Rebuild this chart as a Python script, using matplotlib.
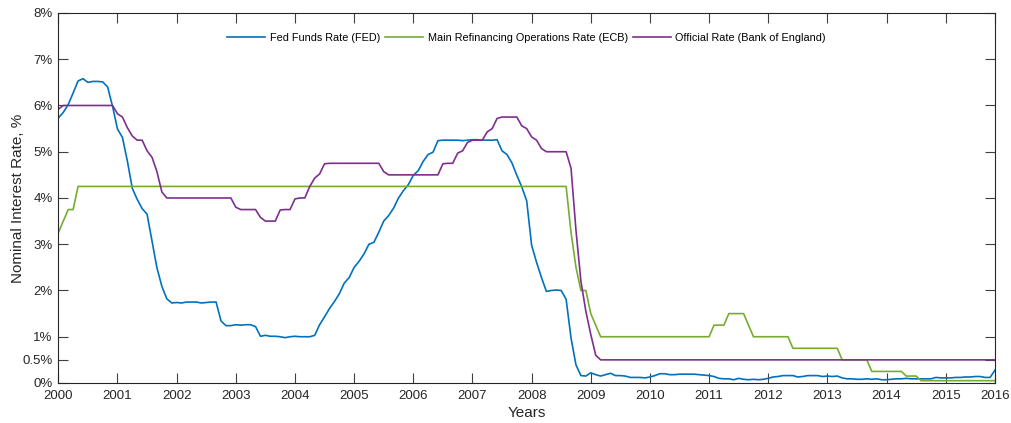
#Nominal interest rates: FED vs ECB vs Bank of England, monthly, Feb 2000 - Dec 2015
import matplotlib
matplotlib.use('Agg')
import matplotlib.pyplot as plt

plt.rcParams['font.family'] = ['Liberation Sans', 'DejaVu Sans']

#----------monthly values, one row per year (first row starts in Feb 2000)----------
fed = [5.73, 5.85, 6.02, 6.27, 6.53, 6.58, 6.50, 6.52, 6.52, 6.51, 6.40,
       5.98, 5.49, 5.31, 4.80, 4.21, 3.97, 3.77, 3.65, 3.07, 2.49, 2.09, 1.82,
       1.73, 1.74, 1.73, 1.75, 1.75, 1.75, 1.73, 1.74, 1.75, 1.75, 1.34, 1.24,
       1.24, 1.26, 1.25, 1.26, 1.26, 1.22, 1.01, 1.03, 1.01, 1.01, 1.00, 0.98,
       1.00, 1.01, 1.00, 1.00, 1.00, 1.03, 1.26, 1.43, 1.61, 1.76, 1.93, 2.16,
       2.28, 2.50, 2.63, 2.79, 3.00, 3.04, 3.26, 3.50, 3.62, 3.78, 4.00, 4.16,
       4.29, 4.49, 4.59, 4.79, 4.94, 4.99, 5.24, 5.25, 5.25, 5.25, 5.25, 5.24,
       5.25, 5.26, 5.26, 5.25, 5.25, 5.25, 5.26, 5.02, 4.94, 4.76, 4.49, 4.24,
       3.94, 2.98, 2.61, 2.28, 1.98, 2.00, 2.01, 2.00, 1.81, 0.97, 0.39, 0.16,
       0.15, 0.22, 0.18, 0.15, 0.18, 0.21, 0.16, 0.16, 0.15, 0.12, 0.12, 0.12,
       0.11, 0.13, 0.16, 0.20, 0.20, 0.18, 0.18, 0.19, 0.19, 0.19, 0.19, 0.18,
       0.17, 0.16, 0.14, 0.10, 0.09, 0.09, 0.07, 0.10, 0.08, 0.07, 0.08, 0.07,
       0.08, 0.10, 0.13, 0.14, 0.16, 0.16, 0.16, 0.13, 0.14, 0.16, 0.16, 0.16,
       0.14, 0.15, 0.14, 0.15, 0.11, 0.09, 0.09, 0.08, 0.08, 0.09, 0.08, 0.09,
       0.07, 0.07, 0.08, 0.09, 0.09, 0.10, 0.09, 0.09, 0.09, 0.09, 0.09, 0.12,
       0.11, 0.11, 0.11, 0.12, 0.12, 0.13, 0.13, 0.14, 0.14, 0.12, 0.12, 0.28]

ecb = [3.25, 3.50, 3.75, 3.75, 4.25, 4.25, 4.25, 4.25, 4.25, 4.25, 4.25,
       4.25, 4.25, 4.25, 4.25, 4.25, 4.25, 4.25, 4.25, 4.25, 4.25, 4.25, 4.25,
       4.25, 4.25, 4.25, 4.25, 4.25, 4.25, 4.25, 4.25, 4.25, 4.25, 4.25, 4.25,
       4.25, 4.25, 4.25, 4.25, 4.25, 4.25, 4.25, 4.25, 4.25, 4.25, 4.25, 4.25,
       4.25, 4.25, 4.25, 4.25, 4.25, 4.25, 4.25, 4.25, 4.25, 4.25, 4.25, 4.25,
       4.25, 4.25, 4.25, 4.25, 4.25, 4.25, 4.25, 4.25, 4.25, 4.25, 4.25, 4.25,
       4.25, 4.25, 4.25, 4.25, 4.25, 4.25, 4.25, 4.25, 4.25, 4.25, 4.25, 4.25,
       4.25, 4.25, 4.25, 4.25, 4.25, 4.25, 4.25, 4.25, 4.25, 4.25, 4.25, 4.25,
       4.25, 4.25, 4.25, 4.25, 4.25, 4.25, 4.25, 4.25, 4.25, 3.25, 2.50, 2.00,
       2.00, 1.50, 1.25, 1.00, 1.00, 1.00, 1.00, 1.00, 1.00, 1.00, 1.00, 1.00,
       1.00, 1.00, 1.00, 1.00, 1.00, 1.00, 1.00, 1.00, 1.00, 1.00, 1.00, 1.00,
       1.00, 1.00, 1.25, 1.25, 1.25, 1.50, 1.50, 1.50, 1.50, 1.25, 1.00, 1.00,
       1.00, 1.00, 1.00, 1.00, 1.00, 1.00, 0.75, 0.75, 0.75, 0.75, 0.75, 0.75,
       0.75, 0.75, 0.75, 0.75, 0.50, 0.50, 0.50, 0.50, 0.50, 0.50, 0.25, 0.25,
       0.25, 0.25, 0.25, 0.25, 0.25, 0.15, 0.15, 0.15, 0.05, 0.05, 0.05, 0.05,
       0.05, 0.05, 0.05, 0.05, 0.05, 0.05, 0.05, 0.05, 0.05, 0.05, 0.05, 0.05]

boe = [5.92, 6.00, 6.00, 6.00, 6.00, 6.00, 6.00, 6.00, 6.00, 6.00, 6.00,
       6.00, 5.82, 5.75, 5.52, 5.34, 5.25, 5.25, 5.02, 4.88, 4.57, 4.13, 4.00,
       4.00, 4.00, 4.00, 4.00, 4.00, 4.00, 4.00, 4.00, 4.00, 4.00, 4.00, 4.00,
       4.00, 3.80, 3.75, 3.75, 3.75, 3.75, 3.58, 3.50, 3.50, 3.50, 3.74, 3.75,
       3.75, 3.98, 4.00, 4.00, 4.25, 4.43, 4.52, 4.74, 4.75, 4.75, 4.75, 4.75,
       4.75, 4.75, 4.75, 4.75, 4.75, 4.75, 4.75, 4.57, 4.50, 4.50, 4.50, 4.50,
       4.50, 4.50, 4.50, 4.50, 4.50, 4.50, 4.50, 4.74, 4.75, 4.75, 4.97, 5.02,
       5.20, 5.25, 5.25, 5.25, 5.43, 5.50, 5.72, 5.75, 5.75, 5.75, 5.75, 5.56,
       5.50, 5.32, 5.25, 5.07, 5.00, 5.00, 5.00, 5.00, 5.00, 4.64, 3.30, 2.20,
       1.55, 1.05, 0.60, 0.50, 0.50, 0.50, 0.50, 0.50, 0.50, 0.50, 0.50, 0.50,
       0.50, 0.50, 0.50, 0.50, 0.50, 0.50, 0.50, 0.50, 0.50, 0.50, 0.50, 0.50,
       0.50, 0.50, 0.50, 0.50, 0.50, 0.50, 0.50, 0.50, 0.50, 0.50, 0.50, 0.50,
       0.50, 0.50, 0.50, 0.50, 0.50, 0.50, 0.50, 0.50, 0.50, 0.50, 0.50, 0.50,
       0.50, 0.50, 0.50, 0.50, 0.50, 0.50, 0.50, 0.50, 0.50, 0.50, 0.50, 0.50,
       0.50, 0.50, 0.50, 0.50, 0.50, 0.50, 0.50, 0.50, 0.50, 0.50, 0.50, 0.50,
       0.50, 0.50, 0.50, 0.50, 0.50, 0.50, 0.50, 0.50, 0.50, 0.50, 0.50, 0.50]

months = list(range(len(fed)))
year_ticks = [0, 12, 24, 36, 48, 60, 72, 84, 96, 108, 120, 132, 144, 156, 168, 180, 190]
year_labels = ['2000', '2001', '2002', '2003', '2004', '2005', '2006', '2007', '2008',
               '2009', '2010', '2011', '2012', '2013', '2014', '2015', '2016']
rate_ticks = [0, 0.5, 1, 2, 3, 4, 5, 6, 7, 8]
rate_labels = ['0%', '0.5%', '1%', '2%', '3%', '4%', '5%', '6%', '7%', '8%']

#------plotting----------
fig = plt.figure(figsize=(10.11, 4.23), dpi=100)
ax = fig.add_axes([0.0577, 0.0946, 0.9265, 0.8747])

ax.plot(months, fed, color='#0072BD', lw=1.2, label='Fed Funds Rate (FED)')
ax.plot(months, ecb, color='#77AC30', lw=1.2, label='Main Refinancing Operations Rate (ECB)')
ax.plot(months, boe, color='#7E2F8E', lw=1.2, label='Official Rate (Bank of England)')

ax.set_xlim(0, 190)
ax.set_ylim(0, 8)
ax.set_xticks(year_ticks)
ax.set_xticklabels(year_labels)
ax.set_yticks(rate_ticks)
ax.set_yticklabels(rate_labels)

for s in ax.spines.values():
    s.set_color('#262626')
    s.set_linewidth(0.8)
ax.tick_params(direction='in', length=7.5, width=0.8, color='#404040',
               labelcolor='#262626', labelsize=9.5, top=True, right=True)
ax.tick_params(axis='x', pad=5)
ax.tick_params(axis='y', pad=4)

ax.set_xlabel('Years', fontsize=11, color='#262626', labelpad=3)
ax.set_ylabel('Nominal Interest Rate, %', fontsize=11, color='#262626')
ax.yaxis.set_label_coords(-0.036, 0.5)

ax.legend(loc='upper center', bbox_to_anchor=(0.5, 0.972), ncol=3, frameon=False,
          fontsize=7.8, handlelength=3.5, handletextpad=0.4, columnspacing=0.5)

plt.savefig('out.png', dpi=100)
